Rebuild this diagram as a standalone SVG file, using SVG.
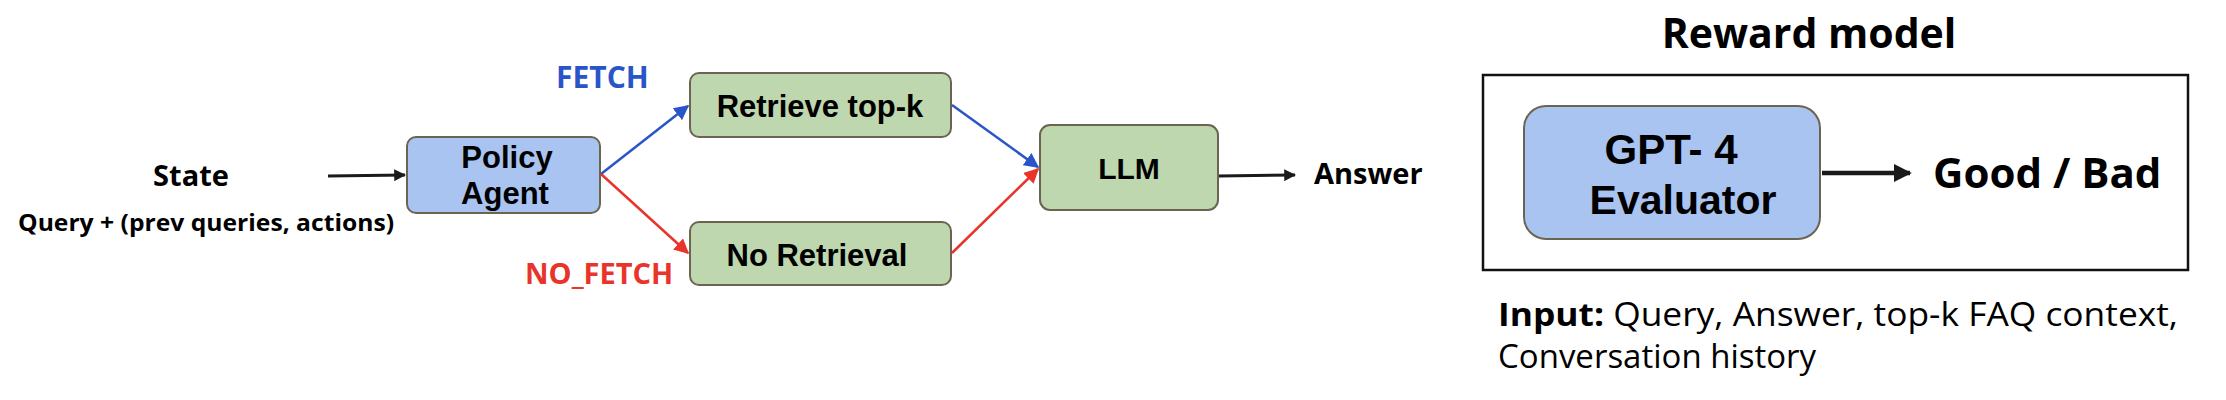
<svg xmlns="http://www.w3.org/2000/svg" width="2226" height="400" viewBox="0 0 2226 400">
<style>
.os{font-family:"Open Sans",sans-serif;font-weight:bold}
.ar{font-family:"Liberation Sans",Arial,sans-serif;font-weight:bold}
.blue{fill:#a9c4f0;stroke:#6b6450;stroke-width:2}
.green{fill:#bfd7ae;stroke:#6b6450;stroke-width:2}
</style>
<defs>
<marker id="mb" viewBox="0 0 10 10" refX="9" refY="5" markerWidth="6" markerHeight="6" orient="auto" markerUnits="strokeWidth"><path d="M0,0L10,5L0,10z" fill="#2a55c8"/></marker>
<marker id="mr" viewBox="0 0 10 10" refX="9" refY="5" markerWidth="6" markerHeight="6" orient="auto" markerUnits="strokeWidth"><path d="M0,0L10,5L0,10z" fill="#e8342a"/></marker>
<marker id="mk3" viewBox="0 0 10 10" refX="9" refY="5" markerWidth="4" markerHeight="4" orient="auto" markerUnits="strokeWidth"><path d="M0,0L10,5L0,10z" fill="#1a1a1a"/></marker>
</defs>
<g id="state"><text class="os" x="191" y="186" font-size="29" text-anchor="middle">State</text>
<text class="os" x="206" y="231" font-size="24" text-anchor="middle" textLength="376" lengthAdjust="spacingAndGlyphs">Query + (prev queries, actions)</text></g>
<g id="policy"><rect class="blue" x="407" y="137" width="193" height="76" rx="9"/>
<text class="ar" x="507" y="168" font-size="31" text-anchor="middle">Policy</text>
<text class="ar" x="505" y="204" font-size="31" text-anchor="middle">Agent</text></g>
<g id="retrieve"><rect class="green" x="690" y="73" width="261" height="64" rx="9"/>
<text class="ar" x="820" y="117" font-size="31" text-anchor="middle">Retrieve top-k</text></g>
<g id="noret"><rect class="green" x="690" y="222" width="261" height="63" rx="9"/>
<text class="ar" x="817" y="266" font-size="31" text-anchor="middle">No Retrieval</text></g>
<g id="llm"><rect class="green" x="1040" y="125" width="178" height="85" rx="10"/>
<text class="ar" x="1129" y="179" font-size="30" text-anchor="middle">LLM</text></g>
<g id="answer"><text class="os" x="1314" y="184" font-size="29">Answer</text></g>
<g id="labels"><text class="os" x="556" y="88" font-size="30" fill="#2a55c8">FETCH</text>
<text class="os" x="525" y="284" font-size="29" fill="#e8342a">NO_FETCH</text></g>
<g id="reward"><text class="os" x="1809" y="48" font-size="41" text-anchor="middle">Reward model</text>
<rect x="1483" y="75" width="705" height="195" fill="none" stroke="#111" stroke-width="2.5"/></g>
<g id="gpt"><rect class="blue" x="1524" y="106" width="296" height="133" rx="22"/>
<text class="ar" x="1671" y="164" font-size="42" text-anchor="middle">GPT- 4</text>
<text class="ar" x="1683" y="214" font-size="41" text-anchor="middle">Evaluator</text></g>
<g id="goodbad"><text class="os" x="1933" y="188" font-size="42">Good / Bad</text></g>
<g id="input"><text x="1498" y="326" font-size="33" font-family="'Open Sans',sans-serif" textLength="680" lengthAdjust="spacingAndGlyphs"><tspan font-weight="bold">Input:</tspan> Query, Answer, top-k FAQ context,</text>
<text x="1498" y="368" font-size="33" font-family="'Open Sans',sans-serif">Conversation history</text></g>
<g id="connectors" fill="none">
<line x1="328" y1="176" x2="405" y2="175" stroke="#1a1a1a" stroke-width="3" marker-end="url(#mk3)"/>
<line x1="601" y1="174" x2="688" y2="106" stroke="#2a55c8" stroke-width="2.5" marker-end="url(#mb)"/>
<line x1="601" y1="174" x2="688" y2="253" stroke="#e8342a" stroke-width="2.5" marker-end="url(#mr)"/>
<line x1="952" y1="105" x2="1038" y2="167" stroke="#2a55c8" stroke-width="2.5" marker-end="url(#mb)"/>
<line x1="952" y1="253" x2="1038" y2="169" stroke="#e8342a" stroke-width="2.5" marker-end="url(#mr)"/>
<line x1="1219" y1="176" x2="1295" y2="175" stroke="#1a1a1a" stroke-width="3" marker-end="url(#mk3)"/>
<line x1="1822" y1="173" x2="1910" y2="173" stroke="#1a1a1a" stroke-width="4.5" marker-end="url(#mk3)"/>
</g>
</svg>
